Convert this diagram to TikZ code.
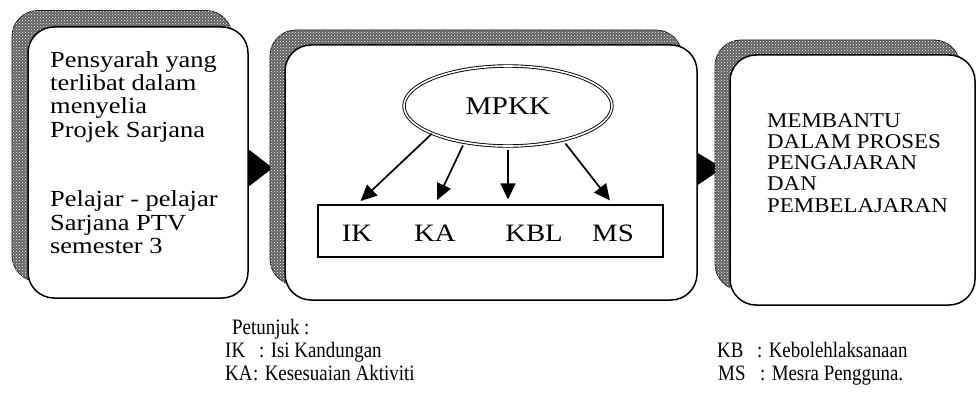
\documentclass[tikz,border=0pt]{standalone}
\usepackage{fontspec}
\setmainfont{Liberation Serif}
\newfontfamily\narrowserif[FakeStretch=0.86]{Liberation Serif}
\newfontfamily\wideserif[FakeStretch=1.15]{Liberation Serif}
\newfontfamily\midserif[FakeStretch=1.09]{Liberation Serif}
\usetikzlibrary{shapes.geometric,patterns,arrows.meta,calc}
\begin{document}
\begin{tikzpicture}[x=1pt,y=-1pt,
  shadowbox/.style={rectangle, rounded corners=26pt, draw=black!90, line width=0.8pt, fill=black!62,
    postaction={pattern=crosshatch dots, pattern color=white}, inner sep=0pt},
  mainbox/.style={rectangle, rounded corners=26pt, draw=black, line width=1.5pt, fill=white, inner sep=0pt},
  boxtext/.style={anchor=north west, align=left, inner sep=0pt},
  lab/.style={font=\wideserif\fontsize{25}{28}\selectfont, anchor=base, inner sep=0pt},
  arr/.style={line width=1.7pt, -{Triangle[length=16pt,width=15pt]}},
  flow/.style={fill=black},
  legend/.style={anchor=base west, inner sep=0pt, font=\narrowserif\fontsize{22}{24}\selectfont}
]
\useasboundingbox (0,0) rectangle (977,409);
\fill[white] (0,0) rectangle (977,409);

% box 1
\node[shadowbox, minimum width=220pt, minimum height=271pt] (s1) at (122,146) {};
\node[mainbox, minimum width=220pt, minimum height=271pt] (b1) at (138,162.5) {};
\fill[flow] ($(b1.east)+(0,-13)$) -- ($(b1.east)+(0,24)$) -- ($(b1.east)+(24,5.5)$) -- cycle;

% box 2
\node[shadowbox, minimum width=412pt, minimum height=255pt] (s2) at (476,157.5) {};
\node[mainbox, minimum width=412pt, minimum height=255pt] (b2) at (491,172.5) {};
\fill[flow] ($(b2.east)+(0,-19.5)$) -- ($(b2.east)+(0,12.5)$) -- ($(b2.east)+(25,-4.5)$) -- cycle;

% box 3
\node[shadowbox, minimum width=245pt, minimum height=250pt] (s3) at (837.5,165) {};
\node[mainbox, minimum width=245pt, minimum height=250pt] (b3) at (852.5,180) {};

% box texts
\node[boxtext, font=\wideserif\fontsize{23}{23.3}\selectfont] (t1) at (50,51)
  {Pensyarah yang\\terlibat dalam\\menyelia\\Projek Sarjana\\[46.6pt]Pelajar - pelajar\\Sarjana PTV\\semester 3};
\node[boxtext, font=\midserif\fontsize{21}{21.3}\selectfont] (t3) at (767,113)
  {MEMBANTU\\DALAM PROSES\\PENGAJARAN\\DAN\\PEMBELAJARAN};

% middle content
\node[draw, ellipse, double, double distance=1.6pt, line width=0.9pt, minimum width=208pt, minimum height=80pt,
  inner sep=0pt, font=\wideserif\fontsize{25.5}{30}\selectfont] (mpkk) at (508,106) {MPKK};
\node[draw, line width=1.2pt, minimum width=345pt, minimum height=52pt, inner sep=0pt] (row) at (490.5,231) {};
\node[lab] (ik) at (357,241) {IK};
\node[lab] (ka) at (435,241) {KA};
\node[lab] (kbl) at (534,241) {KBL};
\node[lab] (ms) at (613,241) {MS};

\draw[arr, shorten >=5pt] (mpkk.200) -- (ik |- row.north);
\draw[arr, shorten <=3pt, shorten >=5pt] (mpkk.220) -- (ka |- row.north);
\draw[arr, shorten <=4pt, shorten >=5pt] (mpkk.south) -- (mpkk.south |- row.north);
\draw[arr, shorten <=4pt, shorten >=5pt] (mpkk.-32) -- (ms |- row.north);

% legend
\node[legend] (pet) at (232,334) {Petunjuk :};
\node[legend] (aik) at (225,357) {IK};
\node[legend] (dik) at (259,357) {: Isi Kandungan};
\node[legend] (aka) at (225,380) {KA};
\node[legend] (dka) at (253,380) {: Kesesuaian Aktiviti};
\node[legend] (akb) at (717,357) {KB};
\node[legend] (dkb) at (757,357) {: Kebolehlaksanaan};
\node[legend] (ams) at (718,380) {MS};
\node[legend] (dms) at (760,380) {: Mesra Pengguna.};
\end{tikzpicture}
\end{document}
